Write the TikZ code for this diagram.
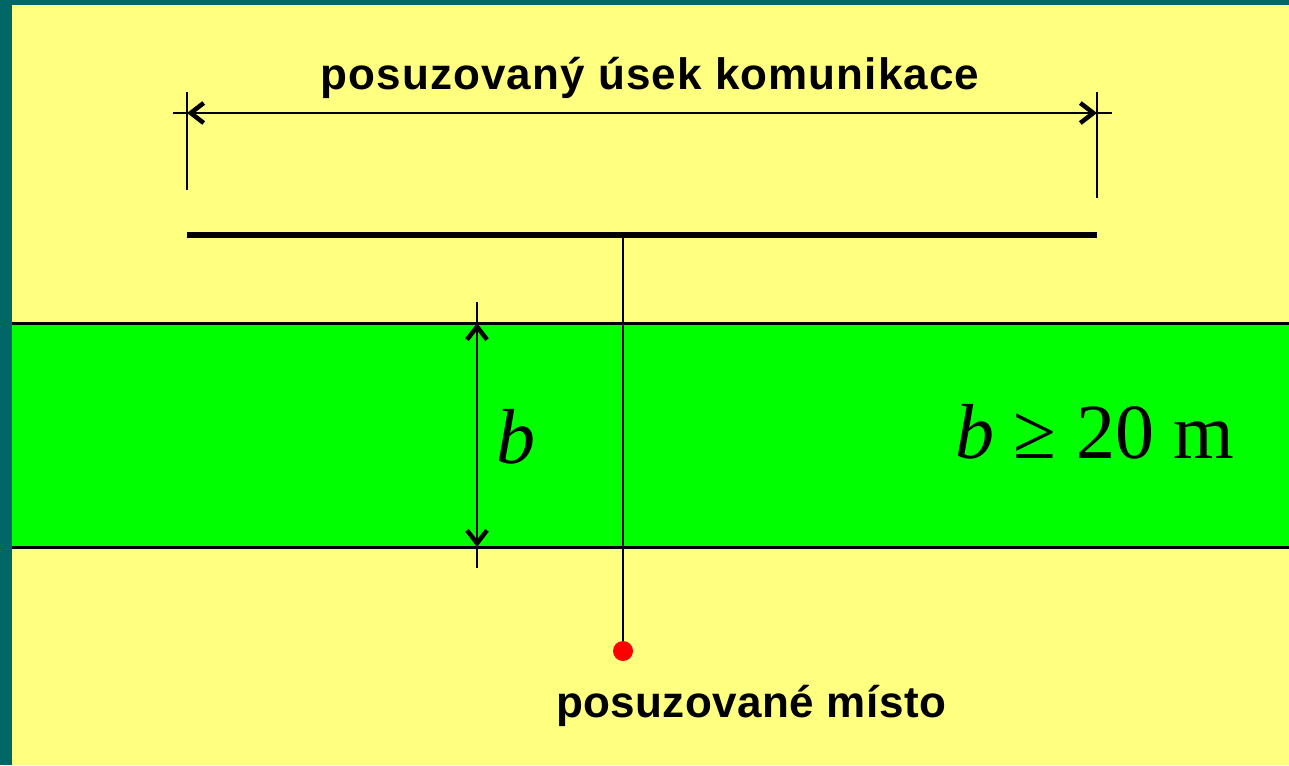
\documentclass[tikz,border=0pt]{standalone}
\usepackage{fontspec}
\setmainfont{Liberation Serif}
\newfontfamily\labelfont{Liberation Sans}
\usetikzlibrary{arrows.meta}
\definecolor{frame}{HTML}{006666}
\definecolor{paper}{HTML}{FFFF80}
\definecolor{band}{HTML}{00FF00}
\definecolor{spot}{HTML}{FF0000}
\tikzset{
  barb/.tip={Straight Barb[length=13pt,width=20pt,line width=4.5pt]},
  dimline/.style={line width=2pt, barb-barb},
  extline/.style={line width=2pt},
  edge/.style={line width=3pt},
  txt/.style={font=\labelfont\bfseries\fontsize{44}{48}\selectfont, inner sep=0pt},
  mathtxt/.style={font=\fontsize{78}{82}\selectfont, inner sep=0pt},
}
\begin{document}
\begin{tikzpicture}[x=1pt,y=-1pt]
\fill[frame] (0,0) rectangle (1289,765);
\fill[paper] (12,5) rectangle (1289,765);
\useasboundingbox (0,0) rectangle (1289,765);
% green band
\fill[band] (12,323) rectangle (1289,547);
\coordinate (bandTL) at (12,323);
\coordinate (bandTR) at (1289,323);
\coordinate (bandBL) at (12,547);
\coordinate (bandBR) at (1289,547);
\draw[edge] (bandTL) -- (bandTR);
\draw[edge] (bandBL) -- (bandBR);
% dimension of section
\coordinate (extLtop) at (187,92);
\coordinate (extLbot) at (187,190);
\coordinate (extRtop) at (1097,92);
\coordinate (extRbot) at (1097,198);
\draw[extline] (extLtop) -- (extLbot);
\draw[extline] (extRtop) -- (extRbot);
\coordinate (dimL) at (187,113);
\coordinate (dimR) at (1097,113);
\coordinate (dimLx) at (173,113);
\coordinate (dimRx) at (1112,113);
\draw[extline] (dimLx) -- (dimL);
\draw[extline] (dimR) -- (dimRx);
\draw[dimline] (dimL) -- (dimR);
\node[txt, anchor=base] (sectlabel) at (650,90) {\addfontfeature{LetterSpace=2.5}posuzovaný úsek komunikace};
% section line
\coordinate (secL) at (187,235);
\coordinate (secR) at (1097,235);
\coordinate (secM) at (623,235);
\draw[line width=6pt] (secL) -- (secR);
% point
\node[circle, fill=spot, minimum size=20pt, inner sep=0pt] (pt) at (623,651) {};
\draw[line width=1.8pt] (secM) -- (pt.north);
\node[txt, anchor=base] (ptlabel) at (751,717) {\addfontfeature{LetterSpace=1}posuzované místo};
% b dimension
\coordinate (bTop) at (477,302);
\coordinate (bBot) at (477,568);
\coordinate (bA) at (477,323);
\coordinate (bB) at (477,547);
\draw[extline] (bTop) -- (bA);
\draw[extline] (bB) -- (bBot);
\draw[dimline] (bA) -- (bB);
\node[mathtxt] (blabel) at (516,437) {\itshape b};
\node[mathtxt, anchor=base west] (cond) at (955,458) {\itshape b\upshape\ ≥ 20 m};
\end{tikzpicture}
\end{document}
